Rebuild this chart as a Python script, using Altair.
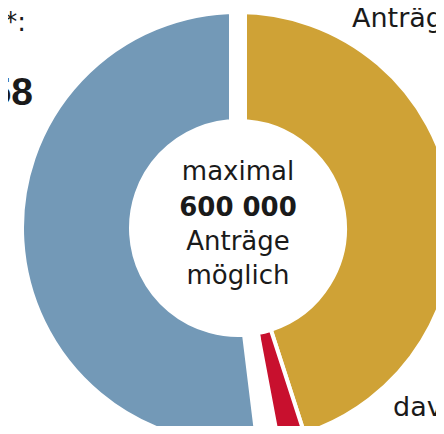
import math
import altair as alt
import pandas as pd

# --- data ---
categories = ["Anträge", "davon abgelehnt", "noch möglich"]
values = [270180, 12000, 311658]
maximum = 600000
colors = ["#cfa236", "#c8102e", "#7399b7"]

# gold/red stack clockwise from the top, the remainder counter-clockwise from the top
start = [0, values[0], maximum - values[2]]
end = [values[0], values[0] + values[1], maximum]
df = pd.DataFrame({"cat": categories, "value": values, "start": start, "end": end})

# --- layout constants ---
W, H = 428, 418
CX, CY = 230, 220
R_OUT, R_IN = 214, 109
GAP = 18
THIN = 4
FONT = "DejaVu Sans"
BOLDNUM = "Liberation Sans"

base = alt.Chart(df).encode(
    theta=alt.Theta("start:Q", scale=alt.Scale(domain=[0, maximum], range=[0, 2 * math.pi])),
    theta2="end:Q",
    color=alt.Color("cat:N", scale=alt.Scale(domain=categories, range=colors), legend=None),
    x=alt.value(CX),
    y=alt.value(CY),
)

ring = base.mark_arc(
    outerRadius=R_OUT + THIN / 2, innerRadius=R_IN - THIN / 2,
    stroke="white", strokeWidth=THIN,
)
rest = base.transform_filter(alt.datum.cat == "noch möglich").mark_arc(
    outerRadius=R_OUT + GAP / 2, innerRadius=R_IN - GAP / 2,
    stroke="white", strokeWidth=GAP,
)


def label(text, x, y, size, align="center", weight="normal", font=FONT):
    return alt.Chart(pd.DataFrame({"t": [text]})).mark_text(
        align=align, baseline="alphabetic", fontSize=size, fontWeight=weight,
        font=font, color="#1a1a1a",
    ).encode(text="t:N", x=alt.value(x), y=alt.value(y))


texts = [
    label("maximal", CX, 172, 26),
    label("600 000", CX, 208, 26, weight="bold"),
    label("Anträge", CX, 242, 26),
    label("möglich", CX, 276, 26),
    label("Verbleibende Anträge", 19, -7, 24, align="right"),
    label("noch möglich*:", 18, 23, 26, align="right"),
    label("311 658", 25, 97, 39, align="right", weight="bold", font=BOLDNUM),
    label("Anträge", 344, 19, 27, align="left"),
    label("davon", 385, 408, 27, align="left"),
    label("abgelehnt:", 334, 442, 27, align="left"),
]

chart = alt.layer(ring, rest, *texts).properties(
    width=W, height=H, padding=0,
    autosize=alt.AutoSizeParams(type="none"),
).configure_view(stroke=None)

chart.save("out.html", embed_options={"renderer": "svg", "actions": False})
